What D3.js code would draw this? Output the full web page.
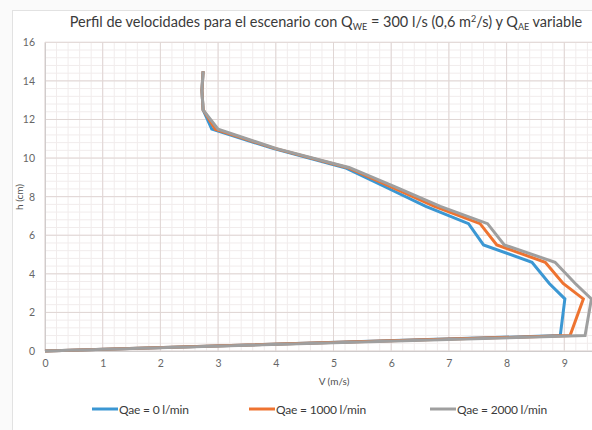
<!DOCTYPE html>
<html>
<head>
<meta charset="utf-8">
<script src="https://cdn.jsdelivr.net/npm/d3@7"></script>
<style>
  html, body { margin: 0; padding: 0; background: #fafafa; }
  svg { display: block; font-family: Lato, "Open Sans", sans-serif; }
</style>
</head>
<body>
<svg id="chart" width="592" height="430"></svg>
<script>
// Heights (cm) where the velocity was sampled
const heights = [0, 0.8, 2.7, 3.5, 4.6, 5.5, 6.6, 7.5, 8.5, 9.5, 10.5, 11.5, 12.5, 13.5, 14.5];

// Velocity (m/s) at each height for each air flow
const vQae0    = [0, 8.93, 9.01, 8.74, 8.44, 7.60, 7.34, 6.60, 5.90, 5.20, 3.95, 2.89, 2.74, 2.72, 2.74];
const vQae1000 = [0, 9.10, 9.33, 8.98, 8.67, 7.83, 7.54, 6.75, 6.00, 5.25, 3.98, 2.95, 2.74, 2.72, 2.74];
const vQae2000 = [0, 9.36, 9.47, 9.19, 8.84, 7.96, 7.67, 6.85, 6.08, 5.28, 4.00, 3.00, 2.74, 2.72, 2.74];

const seriesNames  = ["Qae = 0 l/min", "Qae = 1000 l/min", "Qae = 2000 l/min"];
const seriesColors = ["#3b97d3", "#ee7330", "#9f9f9f"];

const xTicks = [0, 1, 2, 3, 4, 5, 6, 7, 8, 9];
const yTicks = [0, 2, 4, 6, 8, 10, 12, 14, 16];

const svg = d3.select("#chart");
const W = 592, H = 430;

// chart area frame
svg.append("rect").attr("x", 12.5).attr("y", 10.5)
  .attr("width", W).attr("height", H)
  .attr("fill", "#ffffff").attr("stroke", "#e2e2e2");

const x = d3.scaleLinear().domain([0, 10]).range([45, 622]);
const y = d3.scaleLinear().domain([0, 16]).range([351, 42.3]);

const plot = svg.append("g");

// minor gridlines
const xMinor = d3.range(0, 10.01, 0.2);
const yMinor = d3.range(0, 16.01, 0.4);
plot.append("g").selectAll("line").data(xMinor).join("line")
  .attr("x1", d => x(d)).attr("x2", d => x(d))
  .attr("y1", y(0)).attr("y2", y(16))
  .attr("stroke", "#f1ecec").attr("stroke-width", 1);
plot.append("g").selectAll("line").data(yMinor).join("line")
  .attr("x1", x(0)).attr("x2", x(10))
  .attr("y1", d => y(d)).attr("y2", d => y(d))
  .attr("stroke", "#f1ecec").attr("stroke-width", 1);

// major gridlines
plot.append("g").selectAll("line").data(xTicks).join("line")
  .attr("x1", d => x(d)).attr("x2", d => x(d))
  .attr("y1", y(0)).attr("y2", y(16))
  .attr("stroke", "#e0d6d4").attr("stroke-width", 1);
plot.append("g").selectAll("line").data(yTicks).join("line")
  .attr("x1", x(0)).attr("x2", x(10))
  .attr("y1", d => y(d)).attr("y2", d => y(d))
  .attr("stroke", "#e0d6d4").attr("stroke-width", 1);

// axes with labels only
const xAxis = d3.axisBottom(x).tickValues(xTicks).tickSize(0).tickPadding(9).tickFormat(d3.format("d"));
const yAxis = d3.axisLeft(y).tickValues(yTicks).tickSize(0).tickPadding(10).tickFormat(d3.format("d"));

const gx = svg.append("g").attr("transform", `translate(0,${y(0)})`).call(xAxis);
const gy = svg.append("g").attr("transform", `translate(${x(0)},0)`).call(yAxis);
[gx, gy].forEach(g => {
  g.select(".domain").attr("stroke", "#d0cccc");
  g.selectAll("text").attr("fill", "#666666").attr("font-size", 10.5)
    .attr("font-family", "Lato, sans-serif");
});

// velocity profiles
const series = [vQae0, vQae1000, vQae2000];
const line = d3.line().x(d => x(d[0])).y(d => y(d[1]));
series.forEach((vals, i) => {
  svg.append("path")
    .datum(vals.map((v, k) => [v, heights[k]]))
    .attr("d", line)
    .attr("fill", "none")
    .attr("stroke", seriesColors[i])
    .attr("stroke-width", 3)
    .attr("stroke-linejoin", "miter");
});

// title with subscripts and superscript
const title = svg.append("text")
  .attr("x", 326).attr("y", 27)
  .attr("text-anchor", "middle")
  .attr("fill", "#3a3a3a")
  .attr("font-size", 14.5)
  .attr("font-family", "Lato, sans-serif");
title.append("tspan").text("Perfil de velocidades para el escenario con Q");
title.append("tspan").attr("font-size", 9).attr("dy", 3).text("WE");
title.append("tspan").attr("dy", -3).text(" = 300 l/s (0,6 m");
title.append("tspan").attr("font-size", 9).attr("dy", -5).text("2");
title.append("tspan").attr("dy", 5).text("/s) y Q");
title.append("tspan").attr("font-size", 9).attr("dy", 3).text("AE");
title.append("tspan").attr("dy", -3).text(" variable");

// axis titles
svg.append("text")
  .attr("x", 334).attr("y", 385)
  .attr("text-anchor", "middle")
  .attr("fill", "#505050").attr("font-size", 10)
  .text("V (m/s)");
svg.append("text")
  .attr("transform", "translate(23,197) rotate(-90)")
  .attr("text-anchor", "middle")
  .attr("fill", "#505050").attr("font-size", 10)
  .text("h (cm)");

// legend
const legendX = [92, 249, 430];
const legend = svg.append("g");
seriesNames.forEach((name, i) => {
  const g = legend.append("g").attr("transform", `translate(${legendX[i]},409)`);
  g.append("line").attr("x1", 0).attr("x2", 26).attr("y1", 0).attr("y2", 0)
    .attr("stroke", seriesColors[i]).attr("stroke-width", 3);
  g.append("text").attr("x", 27).attr("y", 4.5)
    .attr("fill", "#3a3a3a").attr("font-size", 12)
    .attr("letter-spacing", -0.2)
    .text(name);
});
</script>
</body>
</html>
